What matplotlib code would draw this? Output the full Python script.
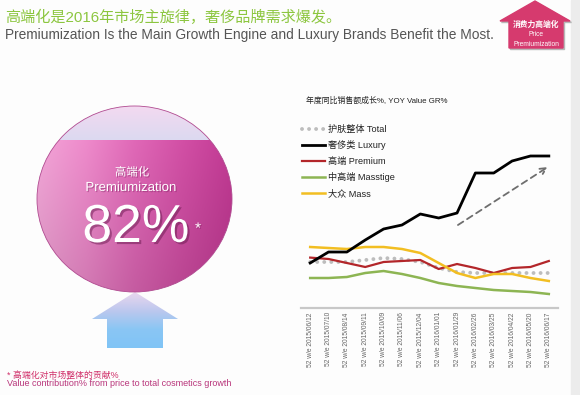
import numpy as np
import matplotlib.pyplot as plt
from matplotlib.patches import Ellipse, Polygon, Rectangle
from matplotlib.colors import to_rgb
import matplotlib.patheffects as pe

plt.rcParams['font.family'] = ['Liberation Sans', 'Noto Sans CJK SC']

# 52-week periods ending on these dates
periods = ['2015/06/12', '2015/07/10', '2015/08/14', '2015/09/11', '2015/10/09',
           '2015/11/06', '2015/12/04', '2016/01/01', '2016/01/29', '2016/02/26',
           '2016/03/25', '2016/04/22', '2016/05/20', '2016/06/17']
tick_labels = ['52 w/e ' + p for p in periods]

# YOY value growth % (no axis shown)
total = [11.5, 11.5, 11.5, 12.0, 12.5, 12.25, 11.5, 10.0, 9.0, 8.75, 8.75, 8.75, 8.75, 8.75]
luxury = [11.25, 14.0, 14.0, 17.0, 19.75, 20.75, 23.5, 22.5, 23.75, 33.75, 33.75, 36.75, 38.0, 38.0]
premium = [12.6, 12.25, 11.25, 10.25, 11.5, 11.75, 12.0, 9.75, 11.0, 10.0, 8.75, 10.0, 10.25, 11.75]
masstige = [7.5, 7.5, 7.75, 8.75, 9.25, 8.5, 7.5, 6.25, 5.5, 5.0, 4.5, 4.25, 4.0, 3.5]
mass = [15.25, 15.0, 14.75, 15.25, 15.25, 14.75, 13.75, 11.25, 8.75, 7.5, 8.5, 8.5, 7.5, 6.75]

series_labels = ['护肤整体 Total', '奢侈类 Luxury', '高端 Premium', '中高端 Masstige', '大众 Mass']
trend_x = [8.05, 12.95]
trend_y = [20.75, 35.25]

contribution = '82%'


def ramp(stops, n):
    # colour ramp between evenly spaced stops
    cols = np.array([to_rgb(c) for c in stops])
    pos = np.linspace(0, 1, len(stops))
    t = np.linspace(0, 1, n)
    return np.stack([np.interp(t, pos, cols[:, k]) for k in range(3)], axis=-1)


fig = plt.figure(figsize=(5.8, 3.95), dpi=100)
fig.patch.set_facecolor('#fdfdfd')

# page layer in pixel coordinates
bg = fig.add_axes([0, 0, 1, 1])
bg.set_axis_off()
bg.add_patch(Rectangle((571, 0), 9, 395, color='#ececec', zorder=0))

# headline
bg.text(5, 17, '高端化是2016年市场主旋律，奢侈品牌需求爆发。', fontsize=10.9, color='#8cc63f',
        va='center', ha='left', fontweight='medium')
bg.text(5, 35, 'Premiumization Is the Main Growth Engine and Luxury Brands Benefit the Most.',
        fontsize=9.9, color='#555555', va='center', ha='left')

# badge (arrow up)
badge = [(535, 1), (570, 21), (563, 21), (563, 48), (509, 48), (509, 21), (500, 21)]
shadow = [(x + 1.5, y + 1.5) for x, y in badge]
bg.add_patch(Polygon(shadow, closed=True, color='#b8b8b8', zorder=2))
bg.add_patch(Polygon(badge, closed=True, color='#d63a6e', zorder=3))
bg.text(536, 25, '消费力高端化', fontsize=5.6, color='white', ha='center', va='center',
        fontweight='bold', zorder=4)
bg.text(536, 34, 'Price', fontsize=4.8, color='white', ha='center', va='center', zorder=4)
bg.text(536, 44, 'Premiumization', fontsize=4.8, color='white', ha='center', va='center', zorder=4)

# big circle
cx, cy, w, h = 134.5, 199, 195, 186
ell = Ellipse((cx, cy), w, h, facecolor='none', edgecolor='none')
bg.add_patch(ell)
top_img = ramp(['#f3d9f1', '#dcdaf0'], 60)[:, None, :] * np.ones((1, 10, 1))
im1 = bg.imshow(top_img, extent=(cx - w / 2, cx + w / 2, 140, cy - h / 2), aspect='auto',
                zorder=1, interpolation='bilinear')
im1.set_clip_path(ell)
horiz = ramp(['#f3a6d8', '#ee8acb', '#e068b7', '#d24fa5', '#c23a94'], 200)
vert = np.linspace(1.0, 0.88, 120)[:, None, None]
pink = np.clip(horiz[None, :, :] * vert, 0, 1)
im2 = bg.imshow(pink, extent=(cx - w / 2, cx + w / 2, cy + h / 2, 140), aspect='auto',
                zorder=1, interpolation='bilinear')
im2.set_clip_path(ell)
bg.add_patch(Ellipse((cx, cy), w, h, facecolor='none', edgecolor='#b04a90', lw=0.6, zorder=2))

shade = [pe.SimplePatchShadow(offset=(0.8, -0.8), shadow_rgbFace='#7a1f5c', alpha=0.45), pe.Normal()]
bg.text(132, 172, '高端化', fontsize=8.2, color='white', ha='center', va='center', zorder=3,
        path_effects=shade)
bg.text(131, 188, 'Premiumization', fontsize=9.5, color='white', ha='center', va='center',
        zorder=3, path_effects=shade)
bg.text(136, 228, contribution, fontsize=38.5, color='white', ha='center', va='center', zorder=3,
        path_effects=[pe.SimplePatchShadow(offset=(1.5, -1.5), shadow_rgbFace='#6a1a50', alpha=0.5),
                      pe.Normal()])
bg.text(198, 229, '*', fontsize=11, color='white', ha='center', va='center', zorder=3,
        path_effects=shade)

# blue arrow under the circle
arrow = Polygon([(135, 292), (178, 319), (163, 319), (163, 348), (107, 348), (107, 319), (92, 319)],
                closed=True, facecolor='none', edgecolor='none')
bg.add_patch(arrow)
blue = ramp(['#ead6ee', '#bcc8ee', '#8ac6f4', '#80c4f6'], 100)[:, None, :] * np.ones((1, 10, 1))
im3 = bg.imshow(blue, extent=(92, 178, 348, 292), aspect='auto', zorder=1, interpolation='bilinear')
im3.set_clip_path(arrow)

# footnote
bg.text(7, 375, '* 高端化对市场整体的贡献%', fontsize=6.4, color='#d0306a', ha='left', va='center')
bg.text(7, 384, 'Value contribution% from price to total cosmetics growth', fontsize=6.5,
        color='#b8347a', ha='left', va='center')

bg.set_xlim(0, 580)
bg.set_ylim(395, 0)

# line chart
ax = fig.add_axes([301 / 580, 1 - 308 / 395, 257 / 580, (308 - 150) / 395])
ax.patch.set_alpha(0)
x = np.arange(len(periods))
ax.plot(x, total, color='#bdbdbd', lw=2.8, linestyle=(0, (0.01, 1.8)), dash_capstyle='round',
        label=series_labels[0], zorder=2)
ax.plot(x, luxury, color='#000000', lw=2.0, label=series_labels[1], zorder=5)
ax.plot(x, premium, color='#b3262a', lw=1.6, label=series_labels[2], zorder=3)
ax.plot(x, masstige, color='#8db553', lw=1.8, label=series_labels[3], zorder=3)
ax.plot(x, mass, color='#f2be22', lw=1.8, label=series_labels[4], zorder=4)

ax.annotate('', xy=(trend_x[1], trend_y[1]), xytext=(trend_x[0], trend_y[0]),
            arrowprops=dict(arrowstyle='->', color='#6e6e6e', lw=1.3, linestyle=(0, (3.5, 2.5)),
                            mutation_scale=11, shrinkA=0, shrinkB=0))

ax.set_xlim(-0.5, 13.5)
ax.set_ylim(0, 39.5)
ax.set_xticks(x)
ax.set_xticklabels(tick_labels, rotation=90, fontsize=4.8, color='#666666')
ax.tick_params(axis='x', length=0, pad=3)
ax.set_yticks([])
for s in ['top', 'left', 'right']:
    ax.spines[s].set_visible(False)
ax.spines['bottom'].set_color('#c8c8c8')
ax.spines['bottom'].set_linewidth(1.6)

fig.text(306 / 580, 1 - 101 / 395, '年度同比销售额成长%, YOY Value GR%', fontsize=5.7,
         color='#222222', ha='left', va='center')
ax.legend(loc='upper left', bbox_to_anchor=(302 / 580, 1 - 125 / 395), bbox_transform=fig.transFigure,
          frameon=False, fontsize=6.6, handlelength=2.5, handletextpad=0.3, labelspacing=0.7,
          borderpad=0, borderaxespad=0, labelcolor='#222222')

fig.savefig('out.png', dpi=100, facecolor=fig.get_facecolor())
